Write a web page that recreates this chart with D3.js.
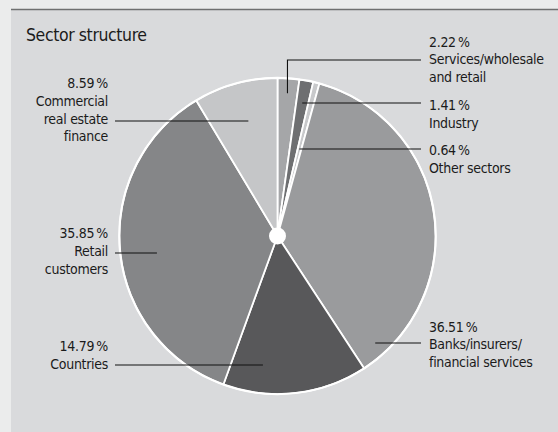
<!DOCTYPE html>
<html>
<head>
<meta charset="utf-8">
<script src="https://cdn.jsdelivr.net/npm/d3@7"></script>
<style>
  html, body { margin: 0; padding: 0; background: #ebecec; }
  svg { display: block; }
  text { font-family: "DejaVu Sans Condensed", "DejaVu Sans", sans-serif; font-stretch: condensed; fill: #1b1b1b; }
</style>
</head>
<body>
<svg id="chart" width="558" height="432"></svg>
<script>
// Sector structure of the portfolio (shares in %), clockwise from 12 o'clock
const sectors = [
  "Services/wholesale and retail",
  "Industry",
  "Other sectors",
  "Banks/insurers/financial services",
  "Countries",
  "Retail customers",
  "Commercial real estate finance"
];
const shares = [2.22, 1.41, 0.64, 36.51, 14.79, 35.85, 8.59];
const labelText = [
  ["Services/wholesale", "and retail"],
  ["Industry"],
  ["Other sectors"],
  ["Banks/insurers/", "financial services"],
  ["Countries"],
  ["Retail", "customers"],
  ["Commercial", "real estate", "finance"]
];
const sliceColors = ["#a5a6a8", "#6e6f71", "#c8c9cb", "#9a9b9d", "#58585a", "#858688", "#c5c6c8"];

// Label placement: side, baseline of first text line, leader line y,
// position of the leader's inner end inside its slice (fraction of the slice angle),
// and for elbow leaders the radius fraction where the vertical segment ends.
const labelLayout = [
  { side: "right", top: 46.5, lineY: 60,  frac: 0.5,  elbowR: 0.905 },
  { side: "right", top: 110,  lineY: 103, frac: 0.5 },
  { side: "right", top: 155,  lineY: 149, frac: 0.42 },
  { side: "right", top: 331.5, lineY: 343, frac: 0.93 },
  { side: "left",  top: 351,  lineY: 365, frac: 0.745 },
  { side: "left",  top: 238,  lineY: 253, frac: 0.48 },
  { side: "left",  top: 88,   lineY: 121, frac: 0.54 }
];

const W = 558, H = 432;
const cx = 277.5, cy = 236, R = 158;
const lineH = 17.8;
const leftTextX = 108, leftLineX = 115;
const rightTextX = 429, rightLineX = 421;

const svg = d3.select("#chart");

// panel
svg.append("rect").attr("x", 11).attr("y", 9).attr("width", W - 11).attr("height", H - 9).attr("fill", "#d9dadc");
svg.append("line").attr("x1", 11).attr("x2", W).attr("y1", 9.5).attr("y2", 9.5)
  .attr("stroke", "#6f7070").attr("stroke-width", 1.6);

svg.append("text").attr("x", 26).attr("y", 41).attr("font-size", 17.5)
  .attr("letter-spacing", -0.4).text("Sector structure");

const pie = d3.pie().sort(null).value(d => d).startAngle(0).endAngle(2 * Math.PI);
const arcs = pie(shares);
const arc = d3.arc().innerRadius(0).outerRadius(R);

const g = svg.append("g").attr("transform", `translate(${cx},${cy})`);
g.selectAll("path.slice").data(arcs).join("path")
  .attr("class", "slice")
  .attr("d", arc)
  .attr("fill", (d, i) => sliceColors[i])
  .attr("stroke", "#ffffff")
  .attr("stroke-width", 1.8)
  .attr("stroke-linejoin", "round");
g.append("circle").attr("r", R + 0.3).attr("fill", "none").attr("stroke", "#ffffff").attr("stroke-width", 2);
g.append("circle").attr("r", 8.5).attr("fill", "#ffffff");

// leader lines and labels
const fmt = v => d3.format(".2f")(v) + "\u2009%";
arcs.forEach((a, i) => {
  const L = labelLayout[i];
  const theta = a.startAngle + (a.endAngle - a.startAngle) * L.frac;
  let pts;
  if (L.elbowR) {
    const ix = cx + R * L.elbowR * Math.sin(theta);
    const iy = cy - R * L.elbowR * Math.cos(theta);
    pts = [[ix, iy], [ix, L.lineY], [rightLineX, L.lineY]];
  } else {
    const ix = cx + (cy - L.lineY) * Math.tan(theta);
    pts = [[ix, L.lineY], [L.side === "right" ? rightLineX : leftLineX, L.lineY]];
  }
  svg.append("path").attr("d", d3.line()(pts))
    .attr("fill", "none").attr("stroke", "#111111").attr("stroke-width", 1.1);

  const t = svg.append("text")
    .attr("font-size", 14)
    .attr("letter-spacing", -0.3)
    .attr("text-anchor", L.side === "right" ? "start" : "end");
  const x = L.side === "right" ? rightTextX : leftTextX;
  [fmt(shares[i])].concat(labelText[i]).forEach((s, k) => {
    t.append("tspan").attr("x", x).attr("y", L.top + k * lineH).text(s);
  });
});
</script>
</body>
</html>
